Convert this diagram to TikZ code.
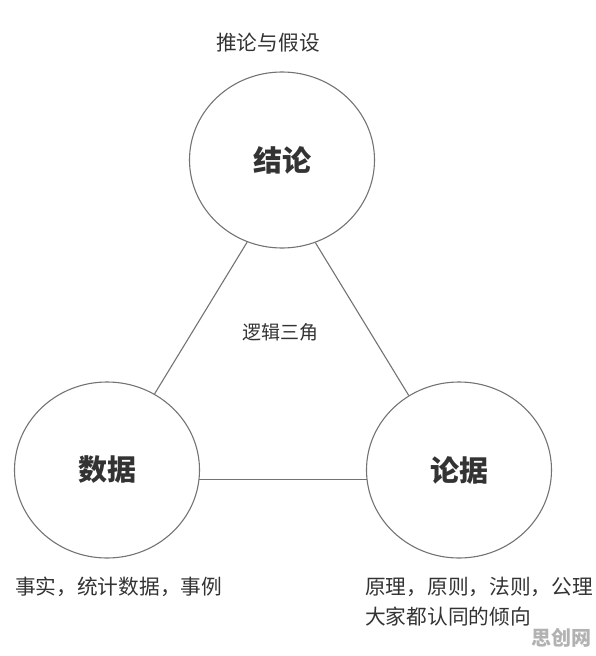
\documentclass[tikz,border=0pt]{standalone}
\usepackage{fontspec}
\setmainfont{Noto Sans CJK SC}
\usepackage{tikz}
\usetikzlibrary{shapes.geometric}

\begin{document}
\begin{tikzpicture}[x=1pt, y=-1pt,
	ring/.style = {draw=black!55, line width=1.1pt, ellipse, minimum width=185pt, minimum height=176pt, inner sep=0pt, text=black!80, font=\fontsize{29}{29}\selectfont\bfseries},
	note/.style = {inner sep=0pt, text=black!80, font=\fontsize{20.7}{30}\selectfont},
	link/.style = {draw=black!55, line width=1.1pt}]
\useasboundingbox (0,0) rectangle (596,656);
\node[ring] (jl) at (282,160) {结论};
\node[ring] (sj) at (107,470) {数据};
\node[ring] (lj) at (459,470) {论据};
\draw[link] (jl.247) -- (sj.58);
\draw[link] (jl.292) -- (lj.124);
\draw[link] (sj.354) -- (lj.186);
\node[note] (tl) at (268,43) {推论与假设};
\node[note, font=\fontsize{19}{19}\selectfont] (lg) at (280,332) {逻辑三角};
\node[note, anchor=west] (sjt) at (15,587) {事实，统计数据，事例};
\node[note, anchor=west, align=left] (ljt) at (365,602) {原理，原则，法则，公理\\大家都认同的倾向};
\node[note, text=black!30, font=\fontsize{20}{20}\selectfont\bfseries] (wm) at (561,638) {思创网};
\end{tikzpicture}
\end{document}
